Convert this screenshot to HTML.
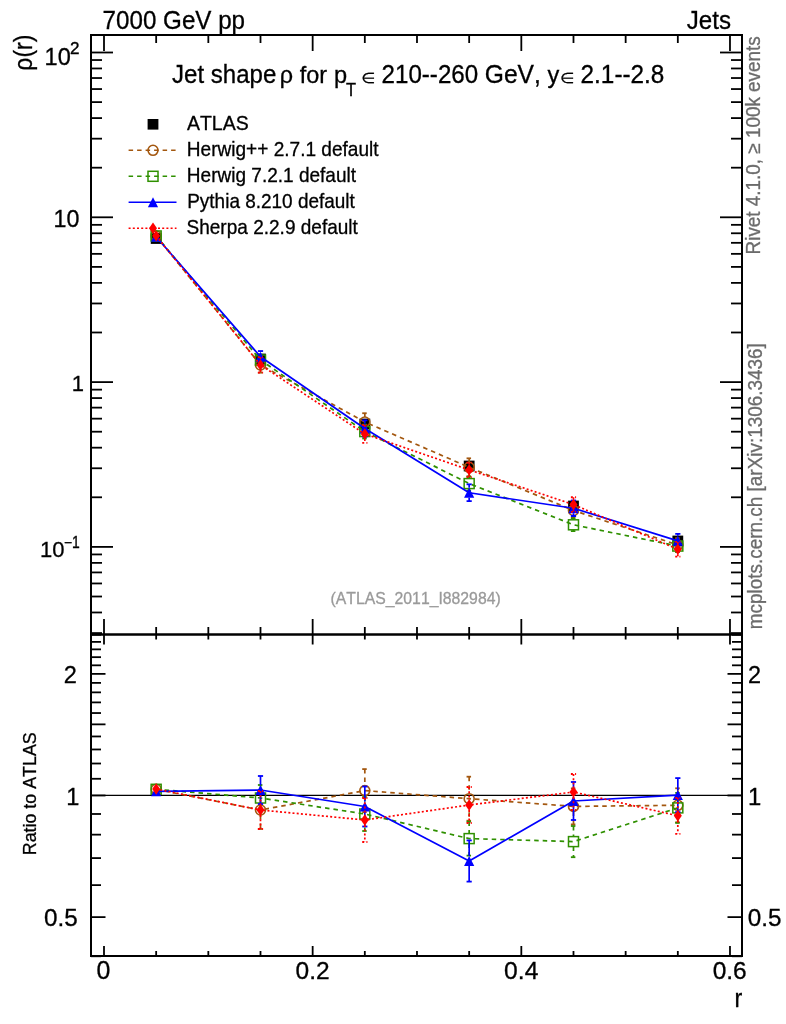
<!DOCTYPE html>
<html><head><meta charset="utf-8"><style>
html,body{margin:0;padding:0;background:#fff;}
body{width:786px;height:1024px;overflow:hidden;}
svg{display:block;font-family:"Liberation Sans", sans-serif;font-kerning:none;will-change:transform;}
text{font-kerning:none;}
</style></head><body>
<svg width="786" height="1024" viewBox="0 0 786 1024">
<rect width="786" height="1024" fill="#fff"/>
<line x1="104.00" y1="35.00" x2="104.00" y2="51.00" stroke="#000" stroke-width="1.8" />
<line x1="104.00" y1="634.50" x2="104.00" y2="619.00" stroke="#000" stroke-width="1.8" />
<line x1="104.00" y1="634.50" x2="104.00" y2="644.50" stroke="#000" stroke-width="1.8" />
<line x1="104.00" y1="956.00" x2="104.00" y2="946.00" stroke="#000" stroke-width="1.8" />
<line x1="156.16" y1="35.00" x2="156.16" y2="43.00" stroke="#000" stroke-width="1.8" />
<line x1="156.16" y1="634.50" x2="156.16" y2="627.00" stroke="#000" stroke-width="1.8" />
<line x1="156.16" y1="634.50" x2="156.16" y2="639.50" stroke="#000" stroke-width="1.8" />
<line x1="156.16" y1="956.00" x2="156.16" y2="951.00" stroke="#000" stroke-width="1.8" />
<line x1="208.33" y1="35.00" x2="208.33" y2="43.00" stroke="#000" stroke-width="1.8" />
<line x1="208.33" y1="634.50" x2="208.33" y2="627.00" stroke="#000" stroke-width="1.8" />
<line x1="208.33" y1="634.50" x2="208.33" y2="639.50" stroke="#000" stroke-width="1.8" />
<line x1="208.33" y1="956.00" x2="208.33" y2="951.00" stroke="#000" stroke-width="1.8" />
<line x1="260.50" y1="35.00" x2="260.50" y2="43.00" stroke="#000" stroke-width="1.8" />
<line x1="260.50" y1="634.50" x2="260.50" y2="627.00" stroke="#000" stroke-width="1.8" />
<line x1="260.50" y1="634.50" x2="260.50" y2="639.50" stroke="#000" stroke-width="1.8" />
<line x1="260.50" y1="956.00" x2="260.50" y2="951.00" stroke="#000" stroke-width="1.8" />
<line x1="312.66" y1="35.00" x2="312.66" y2="51.00" stroke="#000" stroke-width="1.8" />
<line x1="312.66" y1="634.50" x2="312.66" y2="619.00" stroke="#000" stroke-width="1.8" />
<line x1="312.66" y1="634.50" x2="312.66" y2="644.50" stroke="#000" stroke-width="1.8" />
<line x1="312.66" y1="956.00" x2="312.66" y2="946.00" stroke="#000" stroke-width="1.8" />
<line x1="364.82" y1="35.00" x2="364.82" y2="43.00" stroke="#000" stroke-width="1.8" />
<line x1="364.82" y1="634.50" x2="364.82" y2="627.00" stroke="#000" stroke-width="1.8" />
<line x1="364.82" y1="634.50" x2="364.82" y2="639.50" stroke="#000" stroke-width="1.8" />
<line x1="364.82" y1="956.00" x2="364.82" y2="951.00" stroke="#000" stroke-width="1.8" />
<line x1="416.99" y1="35.00" x2="416.99" y2="43.00" stroke="#000" stroke-width="1.8" />
<line x1="416.99" y1="634.50" x2="416.99" y2="627.00" stroke="#000" stroke-width="1.8" />
<line x1="416.99" y1="634.50" x2="416.99" y2="639.50" stroke="#000" stroke-width="1.8" />
<line x1="416.99" y1="956.00" x2="416.99" y2="951.00" stroke="#000" stroke-width="1.8" />
<line x1="469.16" y1="35.00" x2="469.16" y2="43.00" stroke="#000" stroke-width="1.8" />
<line x1="469.16" y1="634.50" x2="469.16" y2="627.00" stroke="#000" stroke-width="1.8" />
<line x1="469.16" y1="634.50" x2="469.16" y2="639.50" stroke="#000" stroke-width="1.8" />
<line x1="469.16" y1="956.00" x2="469.16" y2="951.00" stroke="#000" stroke-width="1.8" />
<line x1="521.32" y1="35.00" x2="521.32" y2="51.00" stroke="#000" stroke-width="1.8" />
<line x1="521.32" y1="634.50" x2="521.32" y2="619.00" stroke="#000" stroke-width="1.8" />
<line x1="521.32" y1="634.50" x2="521.32" y2="644.50" stroke="#000" stroke-width="1.8" />
<line x1="521.32" y1="956.00" x2="521.32" y2="946.00" stroke="#000" stroke-width="1.8" />
<line x1="573.49" y1="35.00" x2="573.49" y2="43.00" stroke="#000" stroke-width="1.8" />
<line x1="573.49" y1="634.50" x2="573.49" y2="627.00" stroke="#000" stroke-width="1.8" />
<line x1="573.49" y1="634.50" x2="573.49" y2="639.50" stroke="#000" stroke-width="1.8" />
<line x1="573.49" y1="956.00" x2="573.49" y2="951.00" stroke="#000" stroke-width="1.8" />
<line x1="625.65" y1="35.00" x2="625.65" y2="43.00" stroke="#000" stroke-width="1.8" />
<line x1="625.65" y1="634.50" x2="625.65" y2="627.00" stroke="#000" stroke-width="1.8" />
<line x1="625.65" y1="634.50" x2="625.65" y2="639.50" stroke="#000" stroke-width="1.8" />
<line x1="625.65" y1="956.00" x2="625.65" y2="951.00" stroke="#000" stroke-width="1.8" />
<line x1="677.82" y1="35.00" x2="677.82" y2="43.00" stroke="#000" stroke-width="1.8" />
<line x1="677.82" y1="634.50" x2="677.82" y2="627.00" stroke="#000" stroke-width="1.8" />
<line x1="677.82" y1="634.50" x2="677.82" y2="639.50" stroke="#000" stroke-width="1.8" />
<line x1="677.82" y1="956.00" x2="677.82" y2="951.00" stroke="#000" stroke-width="1.8" />
<line x1="729.98" y1="35.00" x2="729.98" y2="51.00" stroke="#000" stroke-width="1.8" />
<line x1="729.98" y1="634.50" x2="729.98" y2="619.00" stroke="#000" stroke-width="1.8" />
<line x1="729.98" y1="634.50" x2="729.98" y2="644.50" stroke="#000" stroke-width="1.8" />
<line x1="729.98" y1="956.00" x2="729.98" y2="946.00" stroke="#000" stroke-width="1.8" />
<line x1="91.00" y1="633.07" x2="102.00" y2="633.07" stroke="#000" stroke-width="1.8" />
<line x1="742.00" y1="633.07" x2="731.00" y2="633.07" stroke="#000" stroke-width="1.8" />
<line x1="91.00" y1="612.48" x2="102.00" y2="612.48" stroke="#000" stroke-width="1.8" />
<line x1="742.00" y1="612.48" x2="731.00" y2="612.48" stroke="#000" stroke-width="1.8" />
<line x1="91.00" y1="596.51" x2="102.00" y2="596.51" stroke="#000" stroke-width="1.8" />
<line x1="742.00" y1="596.51" x2="731.00" y2="596.51" stroke="#000" stroke-width="1.8" />
<line x1="91.00" y1="583.46" x2="102.00" y2="583.46" stroke="#000" stroke-width="1.8" />
<line x1="742.00" y1="583.46" x2="731.00" y2="583.46" stroke="#000" stroke-width="1.8" />
<line x1="91.00" y1="572.43" x2="102.00" y2="572.43" stroke="#000" stroke-width="1.8" />
<line x1="742.00" y1="572.43" x2="731.00" y2="572.43" stroke="#000" stroke-width="1.8" />
<line x1="91.00" y1="562.87" x2="102.00" y2="562.87" stroke="#000" stroke-width="1.8" />
<line x1="742.00" y1="562.87" x2="731.00" y2="562.87" stroke="#000" stroke-width="1.8" />
<line x1="91.00" y1="554.44" x2="102.00" y2="554.44" stroke="#000" stroke-width="1.8" />
<line x1="742.00" y1="554.44" x2="731.00" y2="554.44" stroke="#000" stroke-width="1.8" />
<line x1="91.00" y1="546.90" x2="113.00" y2="546.90" stroke="#000" stroke-width="1.8" />
<line x1="742.00" y1="546.90" x2="720.00" y2="546.90" stroke="#000" stroke-width="1.8" />
<line x1="91.00" y1="497.29" x2="102.00" y2="497.29" stroke="#000" stroke-width="1.8" />
<line x1="742.00" y1="497.29" x2="731.00" y2="497.29" stroke="#000" stroke-width="1.8" />
<line x1="91.00" y1="468.27" x2="102.00" y2="468.27" stroke="#000" stroke-width="1.8" />
<line x1="742.00" y1="468.27" x2="731.00" y2="468.27" stroke="#000" stroke-width="1.8" />
<line x1="91.00" y1="447.68" x2="102.00" y2="447.68" stroke="#000" stroke-width="1.8" />
<line x1="742.00" y1="447.68" x2="731.00" y2="447.68" stroke="#000" stroke-width="1.8" />
<line x1="91.00" y1="431.71" x2="102.00" y2="431.71" stroke="#000" stroke-width="1.8" />
<line x1="742.00" y1="431.71" x2="731.00" y2="431.71" stroke="#000" stroke-width="1.8" />
<line x1="91.00" y1="418.66" x2="102.00" y2="418.66" stroke="#000" stroke-width="1.8" />
<line x1="742.00" y1="418.66" x2="731.00" y2="418.66" stroke="#000" stroke-width="1.8" />
<line x1="91.00" y1="407.63" x2="102.00" y2="407.63" stroke="#000" stroke-width="1.8" />
<line x1="742.00" y1="407.63" x2="731.00" y2="407.63" stroke="#000" stroke-width="1.8" />
<line x1="91.00" y1="398.07" x2="102.00" y2="398.07" stroke="#000" stroke-width="1.8" />
<line x1="742.00" y1="398.07" x2="731.00" y2="398.07" stroke="#000" stroke-width="1.8" />
<line x1="91.00" y1="389.64" x2="102.00" y2="389.64" stroke="#000" stroke-width="1.8" />
<line x1="742.00" y1="389.64" x2="731.00" y2="389.64" stroke="#000" stroke-width="1.8" />
<line x1="91.00" y1="382.10" x2="113.00" y2="382.10" stroke="#000" stroke-width="1.8" />
<line x1="742.00" y1="382.10" x2="720.00" y2="382.10" stroke="#000" stroke-width="1.8" />
<line x1="91.00" y1="332.49" x2="102.00" y2="332.49" stroke="#000" stroke-width="1.8" />
<line x1="742.00" y1="332.49" x2="731.00" y2="332.49" stroke="#000" stroke-width="1.8" />
<line x1="91.00" y1="303.47" x2="102.00" y2="303.47" stroke="#000" stroke-width="1.8" />
<line x1="742.00" y1="303.47" x2="731.00" y2="303.47" stroke="#000" stroke-width="1.8" />
<line x1="91.00" y1="282.88" x2="102.00" y2="282.88" stroke="#000" stroke-width="1.8" />
<line x1="742.00" y1="282.88" x2="731.00" y2="282.88" stroke="#000" stroke-width="1.8" />
<line x1="91.00" y1="266.91" x2="102.00" y2="266.91" stroke="#000" stroke-width="1.8" />
<line x1="742.00" y1="266.91" x2="731.00" y2="266.91" stroke="#000" stroke-width="1.8" />
<line x1="91.00" y1="253.86" x2="102.00" y2="253.86" stroke="#000" stroke-width="1.8" />
<line x1="742.00" y1="253.86" x2="731.00" y2="253.86" stroke="#000" stroke-width="1.8" />
<line x1="91.00" y1="242.83" x2="102.00" y2="242.83" stroke="#000" stroke-width="1.8" />
<line x1="742.00" y1="242.83" x2="731.00" y2="242.83" stroke="#000" stroke-width="1.8" />
<line x1="91.00" y1="233.27" x2="102.00" y2="233.27" stroke="#000" stroke-width="1.8" />
<line x1="742.00" y1="233.27" x2="731.00" y2="233.27" stroke="#000" stroke-width="1.8" />
<line x1="91.00" y1="224.84" x2="102.00" y2="224.84" stroke="#000" stroke-width="1.8" />
<line x1="742.00" y1="224.84" x2="731.00" y2="224.84" stroke="#000" stroke-width="1.8" />
<line x1="91.00" y1="217.30" x2="113.00" y2="217.30" stroke="#000" stroke-width="1.8" />
<line x1="742.00" y1="217.30" x2="720.00" y2="217.30" stroke="#000" stroke-width="1.8" />
<line x1="91.00" y1="167.69" x2="102.00" y2="167.69" stroke="#000" stroke-width="1.8" />
<line x1="742.00" y1="167.69" x2="731.00" y2="167.69" stroke="#000" stroke-width="1.8" />
<line x1="91.00" y1="138.67" x2="102.00" y2="138.67" stroke="#000" stroke-width="1.8" />
<line x1="742.00" y1="138.67" x2="731.00" y2="138.67" stroke="#000" stroke-width="1.8" />
<line x1="91.00" y1="118.08" x2="102.00" y2="118.08" stroke="#000" stroke-width="1.8" />
<line x1="742.00" y1="118.08" x2="731.00" y2="118.08" stroke="#000" stroke-width="1.8" />
<line x1="91.00" y1="102.11" x2="102.00" y2="102.11" stroke="#000" stroke-width="1.8" />
<line x1="742.00" y1="102.11" x2="731.00" y2="102.11" stroke="#000" stroke-width="1.8" />
<line x1="91.00" y1="89.06" x2="102.00" y2="89.06" stroke="#000" stroke-width="1.8" />
<line x1="742.00" y1="89.06" x2="731.00" y2="89.06" stroke="#000" stroke-width="1.8" />
<line x1="91.00" y1="78.03" x2="102.00" y2="78.03" stroke="#000" stroke-width="1.8" />
<line x1="742.00" y1="78.03" x2="731.00" y2="78.03" stroke="#000" stroke-width="1.8" />
<line x1="91.00" y1="68.47" x2="102.00" y2="68.47" stroke="#000" stroke-width="1.8" />
<line x1="742.00" y1="68.47" x2="731.00" y2="68.47" stroke="#000" stroke-width="1.8" />
<line x1="91.00" y1="60.04" x2="102.00" y2="60.04" stroke="#000" stroke-width="1.8" />
<line x1="742.00" y1="60.04" x2="731.00" y2="60.04" stroke="#000" stroke-width="1.8" />
<line x1="91.00" y1="52.50" x2="113.00" y2="52.50" stroke="#000" stroke-width="1.8" />
<line x1="742.00" y1="52.50" x2="720.00" y2="52.50" stroke="#000" stroke-width="1.8" />
<line x1="91.00" y1="956.27" x2="101.00" y2="956.27" stroke="#000" stroke-width="1.8" />
<line x1="742.00" y1="956.27" x2="732.00" y2="956.27" stroke="#000" stroke-width="1.8" />
<line x1="91.00" y1="917.12" x2="105.50" y2="917.12" stroke="#000" stroke-width="1.8" />
<line x1="742.00" y1="917.12" x2="727.50" y2="917.12" stroke="#000" stroke-width="1.8" />
<line x1="91.00" y1="885.13" x2="101.00" y2="885.13" stroke="#000" stroke-width="1.8" />
<line x1="742.00" y1="885.13" x2="732.00" y2="885.13" stroke="#000" stroke-width="1.8" />
<line x1="91.00" y1="858.08" x2="101.00" y2="858.08" stroke="#000" stroke-width="1.8" />
<line x1="742.00" y1="858.08" x2="732.00" y2="858.08" stroke="#000" stroke-width="1.8" />
<line x1="91.00" y1="834.65" x2="101.00" y2="834.65" stroke="#000" stroke-width="1.8" />
<line x1="742.00" y1="834.65" x2="732.00" y2="834.65" stroke="#000" stroke-width="1.8" />
<line x1="91.00" y1="813.99" x2="101.00" y2="813.99" stroke="#000" stroke-width="1.8" />
<line x1="742.00" y1="813.99" x2="732.00" y2="813.99" stroke="#000" stroke-width="1.8" />
<line x1="91.00" y1="795.50" x2="105.50" y2="795.50" stroke="#000" stroke-width="1.8" />
<line x1="742.00" y1="795.50" x2="727.50" y2="795.50" stroke="#000" stroke-width="1.8" />
<line x1="91.00" y1="778.78" x2="101.00" y2="778.78" stroke="#000" stroke-width="1.8" />
<line x1="742.00" y1="778.78" x2="732.00" y2="778.78" stroke="#000" stroke-width="1.8" />
<line x1="91.00" y1="763.51" x2="101.00" y2="763.51" stroke="#000" stroke-width="1.8" />
<line x1="742.00" y1="763.51" x2="732.00" y2="763.51" stroke="#000" stroke-width="1.8" />
<line x1="91.00" y1="749.47" x2="101.00" y2="749.47" stroke="#000" stroke-width="1.8" />
<line x1="742.00" y1="749.47" x2="732.00" y2="749.47" stroke="#000" stroke-width="1.8" />
<line x1="91.00" y1="736.46" x2="101.00" y2="736.46" stroke="#000" stroke-width="1.8" />
<line x1="742.00" y1="736.46" x2="732.00" y2="736.46" stroke="#000" stroke-width="1.8" />
<line x1="91.00" y1="724.36" x2="105.50" y2="724.36" stroke="#000" stroke-width="1.8" />
<line x1="742.00" y1="724.36" x2="727.50" y2="724.36" stroke="#000" stroke-width="1.8" />
<line x1="91.00" y1="713.04" x2="101.00" y2="713.04" stroke="#000" stroke-width="1.8" />
<line x1="742.00" y1="713.04" x2="732.00" y2="713.04" stroke="#000" stroke-width="1.8" />
<line x1="91.00" y1="702.40" x2="101.00" y2="702.40" stroke="#000" stroke-width="1.8" />
<line x1="742.00" y1="702.40" x2="732.00" y2="702.40" stroke="#000" stroke-width="1.8" />
<line x1="91.00" y1="692.37" x2="101.00" y2="692.37" stroke="#000" stroke-width="1.8" />
<line x1="742.00" y1="692.37" x2="732.00" y2="692.37" stroke="#000" stroke-width="1.8" />
<line x1="91.00" y1="682.88" x2="101.00" y2="682.88" stroke="#000" stroke-width="1.8" />
<line x1="742.00" y1="682.88" x2="732.00" y2="682.88" stroke="#000" stroke-width="1.8" />
<line x1="91.00" y1="673.88" x2="105.50" y2="673.88" stroke="#000" stroke-width="1.8" />
<line x1="742.00" y1="673.88" x2="727.50" y2="673.88" stroke="#000" stroke-width="1.8" />
<line x1="91.00" y1="665.32" x2="101.00" y2="665.32" stroke="#000" stroke-width="1.8" />
<line x1="742.00" y1="665.32" x2="732.00" y2="665.32" stroke="#000" stroke-width="1.8" />
<line x1="91.00" y1="657.16" x2="101.00" y2="657.16" stroke="#000" stroke-width="1.8" />
<line x1="742.00" y1="657.16" x2="732.00" y2="657.16" stroke="#000" stroke-width="1.8" />
<line x1="91.00" y1="649.36" x2="101.00" y2="649.36" stroke="#000" stroke-width="1.8" />
<line x1="742.00" y1="649.36" x2="732.00" y2="649.36" stroke="#000" stroke-width="1.8" />
<line x1="91.00" y1="641.89" x2="101.00" y2="641.89" stroke="#000" stroke-width="1.8" />
<line x1="742.00" y1="641.89" x2="732.00" y2="641.89" stroke="#000" stroke-width="1.8" />
<line x1="91.00" y1="634.73" x2="101.00" y2="634.73" stroke="#000" stroke-width="1.8" />
<line x1="742.00" y1="634.73" x2="732.00" y2="634.73" stroke="#000" stroke-width="1.8" />
<line x1="91.00" y1="795.40" x2="742.00" y2="795.40" stroke="#000" stroke-width="1.4" />
<defs><clipPath id="ctop"><rect x="91.0" y="35.0" width="651.0" height="599.5"/></clipPath><clipPath id="cbot"><rect x="91.0" y="634.5" width="651.0" height="321.5"/></clipPath></defs>
<g clip-path="url(#ctop)">
<rect x="150.76" y="233.10" width="10.80" height="10.80" fill="#000"/>
<rect x="255.09" y="353.60" width="10.80" height="10.80" fill="#000"/>
<rect x="359.43" y="418.60" width="10.80" height="10.80" fill="#000"/>
<rect x="463.76" y="460.60" width="10.80" height="10.80" fill="#000"/>
<rect x="568.09" y="500.60" width="10.80" height="10.80" fill="#000"/>
<rect x="672.42" y="535.60" width="10.80" height="10.80" fill="#000"/>
</g>
<g clip-path="url(#ctop)">
<polyline points="156.16,235.97 260.50,364.91 364.82,422.00 469.16,467.31 573.49,510.45 677.82,545.00" fill="none" stroke="#a3570f" stroke-width="1.7" stroke-linejoin="round" stroke-dasharray="4.5,4"/>
<line x1="260.50" y1="357.16" x2="260.50" y2="359.91" stroke="#a3570f" stroke-width="1.7" stroke-dasharray="4.5,4"/>
<line x1="260.50" y1="369.91" x2="260.50" y2="372.67" stroke="#a3570f" stroke-width="1.7" stroke-dasharray="4.5,4"/>
<line x1="257.89" y1="357.16" x2="263.10" y2="357.16" stroke="#a3570f" stroke-width="1.8" stroke-dasharray="4.5,4"/>
<line x1="257.89" y1="372.67" x2="263.10" y2="372.67" stroke="#a3570f" stroke-width="1.8" stroke-dasharray="4.5,4"/>
<line x1="364.82" y1="413.23" x2="364.82" y2="417.00" stroke="#a3570f" stroke-width="1.7" stroke-dasharray="4.5,4"/>
<line x1="364.82" y1="427.00" x2="364.82" y2="430.77" stroke="#a3570f" stroke-width="1.7" stroke-dasharray="4.5,4"/>
<line x1="362.22" y1="413.23" x2="367.43" y2="413.23" stroke="#a3570f" stroke-width="1.8" stroke-dasharray="4.5,4"/>
<line x1="362.22" y1="430.77" x2="367.43" y2="430.77" stroke="#a3570f" stroke-width="1.8" stroke-dasharray="4.5,4"/>
<line x1="469.16" y1="458.33" x2="469.16" y2="462.31" stroke="#a3570f" stroke-width="1.7" stroke-dasharray="4.5,4"/>
<line x1="469.16" y1="472.31" x2="469.16" y2="476.28" stroke="#a3570f" stroke-width="1.7" stroke-dasharray="4.5,4"/>
<line x1="466.56" y1="458.33" x2="471.76" y2="458.33" stroke="#a3570f" stroke-width="1.8" stroke-dasharray="4.5,4"/>
<line x1="466.56" y1="476.28" x2="471.76" y2="476.28" stroke="#a3570f" stroke-width="1.8" stroke-dasharray="4.5,4"/>
<line x1="573.49" y1="503.10" x2="573.49" y2="505.45" stroke="#a3570f" stroke-width="1.7" stroke-dasharray="4.5,4"/>
<line x1="573.49" y1="515.45" x2="573.49" y2="517.79" stroke="#a3570f" stroke-width="1.7" stroke-dasharray="4.5,4"/>
<line x1="570.88" y1="503.10" x2="576.09" y2="503.10" stroke="#a3570f" stroke-width="1.8" stroke-dasharray="4.5,4"/>
<line x1="570.88" y1="517.79" x2="576.09" y2="517.79" stroke="#a3570f" stroke-width="1.8" stroke-dasharray="4.5,4"/>
<line x1="677.82" y1="538.06" x2="677.82" y2="540.00" stroke="#a3570f" stroke-width="1.7" stroke-dasharray="4.5,4"/>
<line x1="677.82" y1="550.00" x2="677.82" y2="551.93" stroke="#a3570f" stroke-width="1.7" stroke-dasharray="4.5,4"/>
<line x1="675.22" y1="538.06" x2="680.42" y2="538.06" stroke="#a3570f" stroke-width="1.8" stroke-dasharray="4.5,4"/>
<line x1="675.22" y1="551.93" x2="680.42" y2="551.93" stroke="#a3570f" stroke-width="1.8" stroke-dasharray="4.5,4"/>
<circle cx="156.16" cy="235.97" r="5.00" fill="none" stroke="#a3570f" stroke-width="1.6"/>
<circle cx="260.50" cy="364.91" r="5.00" fill="none" stroke="#a3570f" stroke-width="1.6"/>
<circle cx="364.82" cy="422.00" r="5.00" fill="none" stroke="#a3570f" stroke-width="1.6"/>
<circle cx="469.16" cy="467.31" r="5.00" fill="none" stroke="#a3570f" stroke-width="1.6"/>
<circle cx="573.49" cy="510.45" r="5.00" fill="none" stroke="#a3570f" stroke-width="1.6"/>
<circle cx="677.82" cy="545.00" r="5.00" fill="none" stroke="#a3570f" stroke-width="1.6"/>
</g>
<g clip-path="url(#ctop)">
<polyline points="156.16,235.97 260.50,360.02 364.82,431.55 469.16,483.58 573.49,524.81 677.82,546.06" fill="none" stroke="#2f9000" stroke-width="1.7" stroke-linejoin="round" stroke-dasharray="4.5,4"/>
<line x1="260.50" y1="354.72" x2="260.50" y2="355.02" stroke="#2f9000" stroke-width="1.7" stroke-dasharray="4.5,4"/>
<line x1="260.50" y1="365.02" x2="260.50" y2="365.32" stroke="#2f9000" stroke-width="1.7" stroke-dasharray="4.5,4"/>
<line x1="257.89" y1="354.72" x2="263.10" y2="354.72" stroke="#2f9000" stroke-width="1.8" stroke-dasharray="4.5,4"/>
<line x1="257.89" y1="365.32" x2="263.10" y2="365.32" stroke="#2f9000" stroke-width="1.8" stroke-dasharray="4.5,4"/>
<line x1="364.82" y1="424.61" x2="364.82" y2="426.55" stroke="#2f9000" stroke-width="1.7" stroke-dasharray="4.5,4"/>
<line x1="364.82" y1="436.55" x2="364.82" y2="438.48" stroke="#2f9000" stroke-width="1.7" stroke-dasharray="4.5,4"/>
<line x1="362.22" y1="424.61" x2="367.43" y2="424.61" stroke="#2f9000" stroke-width="1.8" stroke-dasharray="4.5,4"/>
<line x1="362.22" y1="438.48" x2="367.43" y2="438.48" stroke="#2f9000" stroke-width="1.8" stroke-dasharray="4.5,4"/>
<line x1="469.16" y1="476.65" x2="469.16" y2="478.58" stroke="#2f9000" stroke-width="1.7" stroke-dasharray="4.5,4"/>
<line x1="469.16" y1="488.58" x2="469.16" y2="490.52" stroke="#2f9000" stroke-width="1.7" stroke-dasharray="4.5,4"/>
<line x1="466.56" y1="476.65" x2="471.76" y2="476.65" stroke="#2f9000" stroke-width="1.8" stroke-dasharray="4.5,4"/>
<line x1="466.56" y1="490.52" x2="471.76" y2="490.52" stroke="#2f9000" stroke-width="1.8" stroke-dasharray="4.5,4"/>
<line x1="573.49" y1="518.44" x2="573.49" y2="519.81" stroke="#2f9000" stroke-width="1.7" stroke-dasharray="4.5,4"/>
<line x1="573.49" y1="529.81" x2="573.49" y2="531.17" stroke="#2f9000" stroke-width="1.7" stroke-dasharray="4.5,4"/>
<line x1="570.88" y1="518.44" x2="576.09" y2="518.44" stroke="#2f9000" stroke-width="1.8" stroke-dasharray="4.5,4"/>
<line x1="570.88" y1="531.17" x2="576.09" y2="531.17" stroke="#2f9000" stroke-width="1.8" stroke-dasharray="4.5,4"/>
<line x1="677.82" y1="539.94" x2="677.82" y2="541.06" stroke="#2f9000" stroke-width="1.7" stroke-dasharray="4.5,4"/>
<line x1="677.82" y1="551.06" x2="677.82" y2="552.18" stroke="#2f9000" stroke-width="1.7" stroke-dasharray="4.5,4"/>
<line x1="675.22" y1="539.94" x2="680.42" y2="539.94" stroke="#2f9000" stroke-width="1.8" stroke-dasharray="4.5,4"/>
<line x1="675.22" y1="552.18" x2="680.42" y2="552.18" stroke="#2f9000" stroke-width="1.8" stroke-dasharray="4.5,4"/>
<rect x="151.16" y="230.97" width="10.00" height="10.00" fill="none" stroke="#2f9000" stroke-width="1.5"/>
<rect x="255.50" y="355.02" width="10.00" height="10.00" fill="none" stroke="#2f9000" stroke-width="1.5"/>
<rect x="359.82" y="426.55" width="10.00" height="10.00" fill="none" stroke="#2f9000" stroke-width="1.5"/>
<rect x="464.16" y="478.58" width="10.00" height="10.00" fill="none" stroke="#2f9000" stroke-width="1.5"/>
<rect x="568.49" y="519.81" width="10.00" height="10.00" fill="none" stroke="#2f9000" stroke-width="1.5"/>
<rect x="672.82" y="541.06" width="10.00" height="10.00" fill="none" stroke="#2f9000" stroke-width="1.5"/>
</g>
<g clip-path="url(#ctop)">
<polyline points="156.16,236.79 260.50,356.76 364.82,428.49 469.16,492.72 573.49,508.24 677.82,540.84" fill="none" stroke="#0000ff" stroke-width="1.7" stroke-linejoin="round" />
<line x1="260.50" y1="351.05" x2="260.50" y2="351.76" stroke="#0000ff" stroke-width="1.7" />
<line x1="260.50" y1="361.76" x2="260.50" y2="362.47" stroke="#0000ff" stroke-width="1.7" />
<line x1="257.89" y1="351.05" x2="263.10" y2="351.05" stroke="#0000ff" stroke-width="1.8" />
<line x1="257.89" y1="362.47" x2="263.10" y2="362.47" stroke="#0000ff" stroke-width="1.8" />
<line x1="364.82" y1="420.33" x2="364.82" y2="423.49" stroke="#0000ff" stroke-width="1.7" />
<line x1="364.82" y1="433.49" x2="364.82" y2="436.65" stroke="#0000ff" stroke-width="1.7" />
<line x1="362.22" y1="420.33" x2="367.43" y2="420.33" stroke="#0000ff" stroke-width="1.8" />
<line x1="362.22" y1="436.65" x2="367.43" y2="436.65" stroke="#0000ff" stroke-width="1.8" />
<line x1="469.16" y1="484.32" x2="469.16" y2="487.72" stroke="#0000ff" stroke-width="1.7" />
<line x1="469.16" y1="497.72" x2="469.16" y2="501.12" stroke="#0000ff" stroke-width="1.7" />
<line x1="466.56" y1="484.32" x2="471.76" y2="484.32" stroke="#0000ff" stroke-width="1.8" />
<line x1="466.56" y1="501.12" x2="471.76" y2="501.12" stroke="#0000ff" stroke-width="1.8" />
<line x1="573.49" y1="500.49" x2="573.49" y2="503.24" stroke="#0000ff" stroke-width="1.7" />
<line x1="573.49" y1="513.24" x2="573.49" y2="515.99" stroke="#0000ff" stroke-width="1.7" />
<line x1="570.88" y1="500.49" x2="576.09" y2="500.49" stroke="#0000ff" stroke-width="1.8" />
<line x1="570.88" y1="515.99" x2="576.09" y2="515.99" stroke="#0000ff" stroke-width="1.8" />
<line x1="677.82" y1="533.90" x2="677.82" y2="535.84" stroke="#0000ff" stroke-width="1.7" />
<line x1="677.82" y1="545.84" x2="677.82" y2="547.77" stroke="#0000ff" stroke-width="1.7" />
<line x1="675.22" y1="533.90" x2="680.42" y2="533.90" stroke="#0000ff" stroke-width="1.8" />
<line x1="675.22" y1="547.77" x2="680.42" y2="547.77" stroke="#0000ff" stroke-width="1.8" />
<polygon points="156.16,231.79 161.26,241.79 151.06,241.79" fill="#0000ff"/>
<polygon points="260.50,351.76 265.60,361.76 255.40,361.76" fill="#0000ff"/>
<polygon points="364.82,423.49 369.93,433.49 359.72,433.49" fill="#0000ff"/>
<polygon points="469.16,487.72 474.26,497.72 464.06,497.72" fill="#0000ff"/>
<polygon points="573.49,503.24 578.59,513.24 568.38,513.24" fill="#0000ff"/>
<polygon points="677.82,535.84 682.92,545.84 672.72,545.84" fill="#0000ff"/>
</g>
<g clip-path="url(#ctop)">
<polyline points="156.16,235.85 260.50,364.91 364.82,433.99 469.16,469.88 573.49,504.57 677.82,549.28" fill="none" stroke="#ff0000" stroke-width="1.7" stroke-linejoin="round" stroke-dasharray="2,2.2"/>
<line x1="260.50" y1="357.16" x2="260.50" y2="359.91" stroke="#ff0000" stroke-width="1.7" stroke-dasharray="2,2.2"/>
<line x1="260.50" y1="369.91" x2="260.50" y2="372.67" stroke="#ff0000" stroke-width="1.7" stroke-dasharray="2,2.2"/>
<line x1="257.89" y1="357.16" x2="263.10" y2="357.16" stroke="#ff0000" stroke-width="1.8" stroke-dasharray="2,2.2"/>
<line x1="257.89" y1="372.67" x2="263.10" y2="372.67" stroke="#ff0000" stroke-width="1.8" stroke-dasharray="2,2.2"/>
<line x1="364.82" y1="425.02" x2="364.82" y2="428.99" stroke="#ff0000" stroke-width="1.7" stroke-dasharray="2,2.2"/>
<line x1="364.82" y1="438.99" x2="364.82" y2="442.97" stroke="#ff0000" stroke-width="1.7" stroke-dasharray="2,2.2"/>
<line x1="362.22" y1="425.02" x2="367.43" y2="425.02" stroke="#ff0000" stroke-width="1.8" stroke-dasharray="2,2.2"/>
<line x1="362.22" y1="442.97" x2="367.43" y2="442.97" stroke="#ff0000" stroke-width="1.8" stroke-dasharray="2,2.2"/>
<line x1="469.16" y1="462.53" x2="469.16" y2="464.88" stroke="#ff0000" stroke-width="1.7" stroke-dasharray="2,2.2"/>
<line x1="469.16" y1="474.88" x2="469.16" y2="477.22" stroke="#ff0000" stroke-width="1.7" stroke-dasharray="2,2.2"/>
<line x1="466.56" y1="462.53" x2="471.76" y2="462.53" stroke="#ff0000" stroke-width="1.8" stroke-dasharray="2,2.2"/>
<line x1="466.56" y1="477.22" x2="471.76" y2="477.22" stroke="#ff0000" stroke-width="1.8" stroke-dasharray="2,2.2"/>
<line x1="573.49" y1="497.23" x2="573.49" y2="499.57" stroke="#ff0000" stroke-width="1.7" stroke-dasharray="2,2.2"/>
<line x1="573.49" y1="509.57" x2="573.49" y2="511.91" stroke="#ff0000" stroke-width="1.7" stroke-dasharray="2,2.2"/>
<line x1="570.88" y1="497.23" x2="576.09" y2="497.23" stroke="#ff0000" stroke-width="1.8" stroke-dasharray="2,2.2"/>
<line x1="570.88" y1="511.91" x2="576.09" y2="511.91" stroke="#ff0000" stroke-width="1.8" stroke-dasharray="2,2.2"/>
<line x1="677.82" y1="541.94" x2="677.82" y2="544.28" stroke="#ff0000" stroke-width="1.7" stroke-dasharray="2,2.2"/>
<line x1="677.82" y1="554.28" x2="677.82" y2="556.62" stroke="#ff0000" stroke-width="1.7" stroke-dasharray="2,2.2"/>
<line x1="675.22" y1="541.94" x2="680.42" y2="541.94" stroke="#ff0000" stroke-width="1.8" stroke-dasharray="2,2.2"/>
<line x1="675.22" y1="556.62" x2="680.42" y2="556.62" stroke="#ff0000" stroke-width="1.8" stroke-dasharray="2,2.2"/>
<polygon points="156.16,230.15 160.16,235.85 156.16,241.55 152.16,235.85" fill="#ff0000"/>
<polygon points="260.50,359.21 264.50,364.91 260.50,370.61 256.50,364.91" fill="#ff0000"/>
<polygon points="364.82,428.29 368.82,433.99 364.82,439.69 360.82,433.99" fill="#ff0000"/>
<polygon points="469.16,464.18 473.16,469.88 469.16,475.58 465.16,469.88" fill="#ff0000"/>
<polygon points="573.49,498.87 577.49,504.57 573.49,510.27 569.49,504.57" fill="#ff0000"/>
<polygon points="677.82,543.58 681.82,549.28 677.82,554.98 673.82,549.28" fill="#ff0000"/>
</g>
<g clip-path="url(#cbot)">
<polyline points="156.16,789.30 260.50,810.00 364.82,790.60 469.16,798.70 573.49,806.40 677.82,805.30" fill="none" stroke="#a3570f" stroke-width="1.7" stroke-linejoin="round" stroke-dasharray="4.5,4"/>
<line x1="260.50" y1="791.00" x2="260.50" y2="805.00" stroke="#a3570f" stroke-width="1.7" stroke-dasharray="4.5,4"/>
<line x1="260.50" y1="815.00" x2="260.50" y2="829.00" stroke="#a3570f" stroke-width="1.7" stroke-dasharray="4.5,4"/>
<line x1="257.89" y1="791.00" x2="263.10" y2="791.00" stroke="#a3570f" stroke-width="1.8" stroke-dasharray="4.5,4"/>
<line x1="257.89" y1="829.00" x2="263.10" y2="829.00" stroke="#a3570f" stroke-width="1.8" stroke-dasharray="4.5,4"/>
<line x1="364.82" y1="769.10" x2="364.82" y2="785.60" stroke="#a3570f" stroke-width="1.7" stroke-dasharray="4.5,4"/>
<line x1="364.82" y1="795.60" x2="364.82" y2="812.10" stroke="#a3570f" stroke-width="1.7" stroke-dasharray="4.5,4"/>
<line x1="362.22" y1="769.10" x2="367.43" y2="769.10" stroke="#a3570f" stroke-width="1.8" stroke-dasharray="4.5,4"/>
<line x1="362.22" y1="812.10" x2="367.43" y2="812.10" stroke="#a3570f" stroke-width="1.8" stroke-dasharray="4.5,4"/>
<line x1="469.16" y1="776.70" x2="469.16" y2="793.70" stroke="#a3570f" stroke-width="1.7" stroke-dasharray="4.5,4"/>
<line x1="469.16" y1="803.70" x2="469.16" y2="820.70" stroke="#a3570f" stroke-width="1.7" stroke-dasharray="4.5,4"/>
<line x1="466.56" y1="776.70" x2="471.76" y2="776.70" stroke="#a3570f" stroke-width="1.8" stroke-dasharray="4.5,4"/>
<line x1="466.56" y1="820.70" x2="471.76" y2="820.70" stroke="#a3570f" stroke-width="1.8" stroke-dasharray="4.5,4"/>
<line x1="573.49" y1="788.40" x2="573.49" y2="801.40" stroke="#a3570f" stroke-width="1.7" stroke-dasharray="4.5,4"/>
<line x1="573.49" y1="811.40" x2="573.49" y2="824.40" stroke="#a3570f" stroke-width="1.7" stroke-dasharray="4.5,4"/>
<line x1="570.88" y1="788.40" x2="576.09" y2="788.40" stroke="#a3570f" stroke-width="1.8" stroke-dasharray="4.5,4"/>
<line x1="570.88" y1="824.40" x2="576.09" y2="824.40" stroke="#a3570f" stroke-width="1.8" stroke-dasharray="4.5,4"/>
<line x1="677.82" y1="788.30" x2="677.82" y2="800.30" stroke="#a3570f" stroke-width="1.7" stroke-dasharray="4.5,4"/>
<line x1="677.82" y1="810.30" x2="677.82" y2="822.30" stroke="#a3570f" stroke-width="1.7" stroke-dasharray="4.5,4"/>
<line x1="675.22" y1="788.30" x2="680.42" y2="788.30" stroke="#a3570f" stroke-width="1.8" stroke-dasharray="4.5,4"/>
<line x1="675.22" y1="822.30" x2="680.42" y2="822.30" stroke="#a3570f" stroke-width="1.8" stroke-dasharray="4.5,4"/>
<circle cx="156.16" cy="789.30" r="5.00" fill="none" stroke="#a3570f" stroke-width="1.6"/>
<circle cx="260.50" cy="810.00" r="5.00" fill="none" stroke="#a3570f" stroke-width="1.6"/>
<circle cx="364.82" cy="790.60" r="5.00" fill="none" stroke="#a3570f" stroke-width="1.6"/>
<circle cx="469.16" cy="798.70" r="5.00" fill="none" stroke="#a3570f" stroke-width="1.6"/>
<circle cx="573.49" cy="806.40" r="5.00" fill="none" stroke="#a3570f" stroke-width="1.6"/>
<circle cx="677.82" cy="805.30" r="5.00" fill="none" stroke="#a3570f" stroke-width="1.6"/>
</g>
<g clip-path="url(#cbot)">
<polyline points="156.16,789.30 260.50,798.00 364.82,814.00 469.16,838.60 573.49,841.60 677.82,807.90" fill="none" stroke="#2f9000" stroke-width="1.7" stroke-linejoin="round" stroke-dasharray="4.5,4"/>
<line x1="260.50" y1="785.00" x2="260.50" y2="793.00" stroke="#2f9000" stroke-width="1.7" stroke-dasharray="4.5,4"/>
<line x1="260.50" y1="803.00" x2="260.50" y2="811.00" stroke="#2f9000" stroke-width="1.7" stroke-dasharray="4.5,4"/>
<line x1="257.89" y1="785.00" x2="263.10" y2="785.00" stroke="#2f9000" stroke-width="1.8" stroke-dasharray="4.5,4"/>
<line x1="257.89" y1="811.00" x2="263.10" y2="811.00" stroke="#2f9000" stroke-width="1.8" stroke-dasharray="4.5,4"/>
<line x1="364.82" y1="797.00" x2="364.82" y2="809.00" stroke="#2f9000" stroke-width="1.7" stroke-dasharray="4.5,4"/>
<line x1="364.82" y1="819.00" x2="364.82" y2="831.00" stroke="#2f9000" stroke-width="1.7" stroke-dasharray="4.5,4"/>
<line x1="362.22" y1="797.00" x2="367.43" y2="797.00" stroke="#2f9000" stroke-width="1.8" stroke-dasharray="4.5,4"/>
<line x1="362.22" y1="831.00" x2="367.43" y2="831.00" stroke="#2f9000" stroke-width="1.8" stroke-dasharray="4.5,4"/>
<line x1="469.16" y1="821.60" x2="469.16" y2="833.60" stroke="#2f9000" stroke-width="1.7" stroke-dasharray="4.5,4"/>
<line x1="469.16" y1="843.60" x2="469.16" y2="855.60" stroke="#2f9000" stroke-width="1.7" stroke-dasharray="4.5,4"/>
<line x1="466.56" y1="821.60" x2="471.76" y2="821.60" stroke="#2f9000" stroke-width="1.8" stroke-dasharray="4.5,4"/>
<line x1="466.56" y1="855.60" x2="471.76" y2="855.60" stroke="#2f9000" stroke-width="1.8" stroke-dasharray="4.5,4"/>
<line x1="573.49" y1="826.00" x2="573.49" y2="836.60" stroke="#2f9000" stroke-width="1.7" stroke-dasharray="4.5,4"/>
<line x1="573.49" y1="846.60" x2="573.49" y2="857.20" stroke="#2f9000" stroke-width="1.7" stroke-dasharray="4.5,4"/>
<line x1="570.88" y1="826.00" x2="576.09" y2="826.00" stroke="#2f9000" stroke-width="1.8" stroke-dasharray="4.5,4"/>
<line x1="570.88" y1="857.20" x2="576.09" y2="857.20" stroke="#2f9000" stroke-width="1.8" stroke-dasharray="4.5,4"/>
<line x1="677.82" y1="792.90" x2="677.82" y2="802.90" stroke="#2f9000" stroke-width="1.7" stroke-dasharray="4.5,4"/>
<line x1="677.82" y1="812.90" x2="677.82" y2="822.90" stroke="#2f9000" stroke-width="1.7" stroke-dasharray="4.5,4"/>
<line x1="675.22" y1="792.90" x2="680.42" y2="792.90" stroke="#2f9000" stroke-width="1.8" stroke-dasharray="4.5,4"/>
<line x1="675.22" y1="822.90" x2="680.42" y2="822.90" stroke="#2f9000" stroke-width="1.8" stroke-dasharray="4.5,4"/>
<rect x="151.16" y="784.30" width="10.00" height="10.00" fill="none" stroke="#2f9000" stroke-width="1.5"/>
<rect x="255.50" y="793.00" width="10.00" height="10.00" fill="none" stroke="#2f9000" stroke-width="1.5"/>
<rect x="359.82" y="809.00" width="10.00" height="10.00" fill="none" stroke="#2f9000" stroke-width="1.5"/>
<rect x="464.16" y="833.60" width="10.00" height="10.00" fill="none" stroke="#2f9000" stroke-width="1.5"/>
<rect x="568.49" y="836.60" width="10.00" height="10.00" fill="none" stroke="#2f9000" stroke-width="1.5"/>
<rect x="672.82" y="802.90" width="10.00" height="10.00" fill="none" stroke="#2f9000" stroke-width="1.5"/>
</g>
<g clip-path="url(#cbot)">
<polyline points="156.16,791.30 260.50,790.00 364.82,806.50 469.16,861.00 573.49,801.00 677.82,795.10" fill="none" stroke="#0000ff" stroke-width="1.7" stroke-linejoin="round" />
<line x1="260.50" y1="776.00" x2="260.50" y2="785.00" stroke="#0000ff" stroke-width="1.7" />
<line x1="260.50" y1="795.00" x2="260.50" y2="804.00" stroke="#0000ff" stroke-width="1.7" />
<line x1="257.89" y1="776.00" x2="263.10" y2="776.00" stroke="#0000ff" stroke-width="1.8" />
<line x1="257.89" y1="804.00" x2="263.10" y2="804.00" stroke="#0000ff" stroke-width="1.8" />
<line x1="364.82" y1="786.50" x2="364.82" y2="801.50" stroke="#0000ff" stroke-width="1.7" />
<line x1="364.82" y1="811.50" x2="364.82" y2="826.50" stroke="#0000ff" stroke-width="1.7" />
<line x1="362.22" y1="786.50" x2="367.43" y2="786.50" stroke="#0000ff" stroke-width="1.8" />
<line x1="362.22" y1="826.50" x2="367.43" y2="826.50" stroke="#0000ff" stroke-width="1.8" />
<line x1="469.16" y1="840.40" x2="469.16" y2="856.00" stroke="#0000ff" stroke-width="1.7" />
<line x1="469.16" y1="866.00" x2="469.16" y2="881.60" stroke="#0000ff" stroke-width="1.7" />
<line x1="466.56" y1="840.40" x2="471.76" y2="840.40" stroke="#0000ff" stroke-width="1.8" />
<line x1="466.56" y1="881.60" x2="471.76" y2="881.60" stroke="#0000ff" stroke-width="1.8" />
<line x1="573.49" y1="782.00" x2="573.49" y2="796.00" stroke="#0000ff" stroke-width="1.7" />
<line x1="573.49" y1="806.00" x2="573.49" y2="820.00" stroke="#0000ff" stroke-width="1.7" />
<line x1="570.88" y1="782.00" x2="576.09" y2="782.00" stroke="#0000ff" stroke-width="1.8" />
<line x1="570.88" y1="820.00" x2="576.09" y2="820.00" stroke="#0000ff" stroke-width="1.8" />
<line x1="677.82" y1="778.10" x2="677.82" y2="790.10" stroke="#0000ff" stroke-width="1.7" />
<line x1="677.82" y1="800.10" x2="677.82" y2="812.10" stroke="#0000ff" stroke-width="1.7" />
<line x1="675.22" y1="778.10" x2="680.42" y2="778.10" stroke="#0000ff" stroke-width="1.8" />
<line x1="675.22" y1="812.10" x2="680.42" y2="812.10" stroke="#0000ff" stroke-width="1.8" />
<polygon points="156.16,786.30 161.26,796.30 151.06,796.30" fill="#0000ff"/>
<polygon points="260.50,785.00 265.60,795.00 255.40,795.00" fill="#0000ff"/>
<polygon points="364.82,801.50 369.93,811.50 359.72,811.50" fill="#0000ff"/>
<polygon points="469.16,856.00 474.26,866.00 464.06,866.00" fill="#0000ff"/>
<polygon points="573.49,796.00 578.59,806.00 568.38,806.00" fill="#0000ff"/>
<polygon points="677.82,790.10 682.92,800.10 672.72,800.10" fill="#0000ff"/>
</g>
<g clip-path="url(#cbot)">
<polyline points="156.16,789.00 260.50,810.00 364.82,820.00 469.16,805.00 573.49,792.00 677.82,815.80" fill="none" stroke="#ff0000" stroke-width="1.7" stroke-linejoin="round" stroke-dasharray="2,2.2"/>
<line x1="260.50" y1="791.00" x2="260.50" y2="805.00" stroke="#ff0000" stroke-width="1.7" stroke-dasharray="2,2.2"/>
<line x1="260.50" y1="815.00" x2="260.50" y2="829.00" stroke="#ff0000" stroke-width="1.7" stroke-dasharray="2,2.2"/>
<line x1="257.89" y1="791.00" x2="263.10" y2="791.00" stroke="#ff0000" stroke-width="1.8" stroke-dasharray="2,2.2"/>
<line x1="257.89" y1="829.00" x2="263.10" y2="829.00" stroke="#ff0000" stroke-width="1.8" stroke-dasharray="2,2.2"/>
<line x1="364.82" y1="798.00" x2="364.82" y2="815.00" stroke="#ff0000" stroke-width="1.7" stroke-dasharray="2,2.2"/>
<line x1="364.82" y1="825.00" x2="364.82" y2="842.00" stroke="#ff0000" stroke-width="1.7" stroke-dasharray="2,2.2"/>
<line x1="362.22" y1="798.00" x2="367.43" y2="798.00" stroke="#ff0000" stroke-width="1.8" stroke-dasharray="2,2.2"/>
<line x1="362.22" y1="842.00" x2="367.43" y2="842.00" stroke="#ff0000" stroke-width="1.8" stroke-dasharray="2,2.2"/>
<line x1="469.16" y1="787.00" x2="469.16" y2="800.00" stroke="#ff0000" stroke-width="1.7" stroke-dasharray="2,2.2"/>
<line x1="469.16" y1="810.00" x2="469.16" y2="823.00" stroke="#ff0000" stroke-width="1.7" stroke-dasharray="2,2.2"/>
<line x1="466.56" y1="787.00" x2="471.76" y2="787.00" stroke="#ff0000" stroke-width="1.8" stroke-dasharray="2,2.2"/>
<line x1="466.56" y1="823.00" x2="471.76" y2="823.00" stroke="#ff0000" stroke-width="1.8" stroke-dasharray="2,2.2"/>
<line x1="573.49" y1="774.00" x2="573.49" y2="787.00" stroke="#ff0000" stroke-width="1.7" stroke-dasharray="2,2.2"/>
<line x1="573.49" y1="797.00" x2="573.49" y2="810.00" stroke="#ff0000" stroke-width="1.7" stroke-dasharray="2,2.2"/>
<line x1="570.88" y1="774.00" x2="576.09" y2="774.00" stroke="#ff0000" stroke-width="1.8" stroke-dasharray="2,2.2"/>
<line x1="570.88" y1="810.00" x2="576.09" y2="810.00" stroke="#ff0000" stroke-width="1.8" stroke-dasharray="2,2.2"/>
<line x1="677.82" y1="797.80" x2="677.82" y2="810.80" stroke="#ff0000" stroke-width="1.7" stroke-dasharray="2,2.2"/>
<line x1="677.82" y1="820.80" x2="677.82" y2="833.80" stroke="#ff0000" stroke-width="1.7" stroke-dasharray="2,2.2"/>
<line x1="675.22" y1="797.80" x2="680.42" y2="797.80" stroke="#ff0000" stroke-width="1.8" stroke-dasharray="2,2.2"/>
<line x1="675.22" y1="833.80" x2="680.42" y2="833.80" stroke="#ff0000" stroke-width="1.8" stroke-dasharray="2,2.2"/>
<polygon points="156.16,783.30 160.16,789.00 156.16,794.70 152.16,789.00" fill="#ff0000"/>
<polygon points="260.50,804.30 264.50,810.00 260.50,815.70 256.50,810.00" fill="#ff0000"/>
<polygon points="364.82,814.30 368.82,820.00 364.82,825.70 360.82,820.00" fill="#ff0000"/>
<polygon points="469.16,799.30 473.16,805.00 469.16,810.70 465.16,805.00" fill="#ff0000"/>
<polygon points="573.49,786.30 577.49,792.00 573.49,797.70 569.49,792.00" fill="#ff0000"/>
<polygon points="677.82,810.10 681.82,815.80 677.82,821.50 673.82,815.80" fill="#ff0000"/>
</g>
<rect x="91.0" y="35.0" width="651.0" height="599.5" fill="none" stroke="#000" stroke-width="2"/>
<rect x="91.0" y="634.5" width="651.0" height="321.5" fill="none" stroke="#000" stroke-width="2"/>
<rect x="147.60" y="119.00" width="10.8" height="10.6" fill="#000"/>
<line x1="128.60" y1="150.30" x2="176.50" y2="150.30" stroke="#a3570f" stroke-width="1.6" stroke-dasharray="4.5,4"/>
<circle cx="153.00" cy="150.30" r="5.00" fill="none" stroke="#a3570f" stroke-width="1.6"/>
<line x1="128.60" y1="176.30" x2="176.50" y2="176.30" stroke="#2f9000" stroke-width="1.6" stroke-dasharray="4.5,4"/>
<rect x="148.00" y="171.30" width="10.00" height="10.00" fill="none" stroke="#2f9000" stroke-width="1.5"/>
<line x1="128.60" y1="202.30" x2="176.50" y2="202.30" stroke="#0000ff" stroke-width="1.6" />
<polygon points="153.00,197.30 158.10,207.30 147.90,207.30" fill="#0000ff"/>
<line x1="128.60" y1="228.30" x2="176.50" y2="228.30" stroke="#ff0000" stroke-width="1.6" stroke-dasharray="2,2.2"/>
<polygon points="153.00,222.60 157.00,228.30 153.00,234.00 149.00,228.30" fill="#ff0000"/>
<text transform="translate(102.61,29.30) scale(0.9950,1.0299)" font-size="24.3" fill="#000" stroke="#000" stroke-width="0.3" font-family="'Liberation Sans', sans-serif">7000 GeV pp</text>
<text transform="translate(686.80,29.20) scale(0.9908,1.0255)" font-size="24.3" fill="#000" stroke="#000" stroke-width="0.3" font-family="'Liberation Sans', sans-serif">Jets</text>
<text transform="translate(172.10,83.10) scale(1.0010,1.0360)" font-size="24" fill="#000" stroke="#000" stroke-width="0.3" font-family="'Liberation Sans', sans-serif">Jet shape</text>
<text transform="translate(279.73,83.18) scale(0.9737,0.9828)" font-size="24" fill="#000" stroke="#000" stroke-width="0.3" font-family="'Liberation Sans', sans-serif">&#961;</text>
<text transform="translate(299.71,83.00) scale(0.9781,1.0123)" font-size="24" fill="#000" stroke="#000" stroke-width="0.3" font-family="'Liberation Sans', sans-serif">for</text>
<text transform="translate(333.92,83.18) scale(0.9828)" font-size="24" fill="#000" stroke="#000" stroke-width="0.3" font-family="'Liberation Sans', sans-serif">p</text>
<text transform="translate(345.91,96.21) scale(0.9681,1.0351)" font-size="17" fill="#000" stroke="#000" stroke-width="0.3" font-family="'Liberation Sans', sans-serif">T</text>
<text transform="translate(361.40,82.97) scale(1.0000,0.8942)" font-size="16" fill="#000" stroke="#000" stroke-width="0.3" font-family="'DejaVu Sans', sans-serif">&#8712;</text>
<text transform="translate(381.59,83.20) scale(1.0054,1.0405)" font-size="24" fill="#000" stroke="#000" stroke-width="0.3" font-family="'Liberation Sans', sans-serif">210--260</text>
<text transform="translate(484.77,83.20) scale(1.0253,1.0612)" font-size="24" fill="#000" stroke="#000" stroke-width="0.3" font-family="'Liberation Sans', sans-serif">GeV,</text>
<text transform="translate(547.61,83.18) scale(0.9828)" font-size="24" fill="#000" stroke="#000" stroke-width="0.3" font-family="'Liberation Sans', sans-serif">y</text>
<text transform="translate(560.37,83.07) scale(1.0263,0.9038)" font-size="16" fill="#000" stroke="#000" stroke-width="0.3" font-family="'DejaVu Sans', sans-serif">&#8712;</text>
<text transform="translate(580.58,83.20) scale(1.0137,1.0492)" font-size="24" fill="#000" stroke="#000" stroke-width="0.3" font-family="'Liberation Sans', sans-serif">2.1--2.8</text>
<text transform="translate(187.00,130.00) scale(1.0084,1.0437)" font-size="19.3" fill="#000" stroke="#000" stroke-width="0.3" font-family="'Liberation Sans', sans-serif">ATLAS</text>
<text transform="translate(186.82,156.00) scale(0.9880,1.0226)" font-size="19.3" fill="#000" stroke="#000" stroke-width="0.3" font-family="'Liberation Sans', sans-serif">Herwig++ 2.7.1 default</text>
<text transform="translate(186.82,182.10) scale(0.9859,1.0204)" font-size="19.3" fill="#000" stroke="#000" stroke-width="0.3" font-family="'Liberation Sans', sans-serif">Herwig 7.2.1 default</text>
<text transform="translate(187.22,208.40) scale(0.9829,1.0173)" font-size="19.3" fill="#000" stroke="#000" stroke-width="0.3" font-family="'Liberation Sans', sans-serif">Pythia 8.210 default</text>
<text transform="translate(186.52,234.00) scale(0.9861,1.0206)" font-size="19.3" fill="#000" stroke="#000" stroke-width="0.3" font-family="'Liberation Sans', sans-serif">Sherpa 2.2.9 default</text>
<text transform="translate(44.60,64.91) scale(1.0244)" font-size="23" fill="#000" stroke="#000" stroke-width="0.3" font-family="'Liberation Sans', sans-serif">10</text>
<text transform="translate(70.02,54.14) scale(1.1406,1.1170)" font-size="15" fill="#000" stroke="#000" stroke-width="0.3" font-family="'Liberation Sans', sans-serif">2</text>
<text transform="translate(53.50,226.90) scale(1.0122)" font-size="23" fill="#000" stroke="#000" stroke-width="0.3" font-family="'Liberation Sans', sans-serif">10</text>
<text transform="translate(71.79,390.99) scale(0.9573)" font-size="23" fill="#000" stroke="#000" stroke-width="0.3" font-family="'Liberation Sans', sans-serif">1</text>
<text transform="translate(39.95,557.29) scale(0.9573)" font-size="23" fill="#000" stroke="#000" stroke-width="0.3" font-family="'Liberation Sans', sans-serif">10</text>
<text transform="translate(63.89,547.92) scale(0.9286,1.0532)" font-size="15" fill="#000" stroke="#000" stroke-width="0.3" font-family="'Liberation Sans', sans-serif">&#8722;1</text>
<text transform="translate(63.64,683.11) scale(1.0244)" font-size="23" fill="#000" stroke="#000" stroke-width="0.3" font-family="'Liberation Sans', sans-serif">2</text>
<text transform="translate(66.13,805.11) scale(1.0244)" font-size="23" fill="#000" stroke="#000" stroke-width="0.3" font-family="'Liberation Sans', sans-serif">1</text>
<text transform="translate(44.12,925.72) scale(1.0549)" font-size="23" fill="#000" stroke="#000" stroke-width="0.3" font-family="'Liberation Sans', sans-serif">0.5</text>
<text transform="translate(747.88,683.11) scale(1.0183)" font-size="23" fill="#000" stroke="#000" stroke-width="0.3" font-family="'Liberation Sans', sans-serif">2</text>
<text transform="translate(747.95,805.21) scale(1.0366)" font-size="23" fill="#000" stroke="#000" stroke-width="0.3" font-family="'Liberation Sans', sans-serif">1</text>
<text transform="translate(747.67,925.52) scale(1.0549)" font-size="23" fill="#000" stroke="#000" stroke-width="0.3" font-family="'Liberation Sans', sans-serif">0.5</text>
<text transform="translate(96.50,978.82) scale(1.0610)" font-size="23.5" fill="#000" stroke="#000" stroke-width="0.3" font-family="'Liberation Sans', sans-serif">0</text>
<text transform="translate(295.60,978.71) scale(1.0427)" font-size="23.5" fill="#000" stroke="#000" stroke-width="0.3" font-family="'Liberation Sans', sans-serif">0.2</text>
<text transform="translate(504.10,978.61) scale(1.0488)" font-size="23.5" fill="#000" stroke="#000" stroke-width="0.3" font-family="'Liberation Sans', sans-serif">0.4</text>
<text transform="translate(712.65,978.81) scale(1.0427)" font-size="23.5" fill="#000" stroke="#000" stroke-width="0.3" font-family="'Liberation Sans', sans-serif">0.6</text>
<text transform="translate(734.44,1007.23) scale(0.9687,1.1129)" font-size="24" fill="#000" stroke="#000" stroke-width="0.3" font-family="'Liberation Sans', sans-serif">r</text>
<text transform="translate(330.60,603.80) scale(0.9994,1.0344)" font-size="15.8" fill="#9a9a9a" stroke="#9a9a9a" stroke-width="0.3" font-family="'Liberation Sans', sans-serif">(ATLAS_2011_I882984)</text>
<text transform="translate(32.16,70.64) rotate(-90) scale(0.9548,1.0935)" font-size="24" fill="#000" stroke="#000" stroke-width="0.3" font-family="'Liberation Sans', sans-serif">&#961;(r)</text>
<text transform="translate(36.00,855.25) rotate(-90) scale(0.9649,0.9987)" font-size="18.5" fill="#000" stroke="#000" stroke-width="0.3" font-family="'Liberation Sans', sans-serif">Ratio to ATLAS</text>
<text transform="translate(759.90,254.39) rotate(-90) scale(0.9936,1.0283)" font-size="19" fill="#6b6b6b" stroke="#6b6b6b" stroke-width="0.3" font-family="'Liberation Sans', sans-serif">Rivet 4.1.0, &#8805; 100k events</text>
<text transform="translate(761.90,629.16) rotate(-90) scale(0.9709,1.0049)" font-size="19.5" fill="#6b6b6b" stroke="#6b6b6b" stroke-width="0.3" font-family="'Liberation Sans', sans-serif">mcplots.cern.ch [arXiv:1306.3436]</text>
</svg>
</body></html>
